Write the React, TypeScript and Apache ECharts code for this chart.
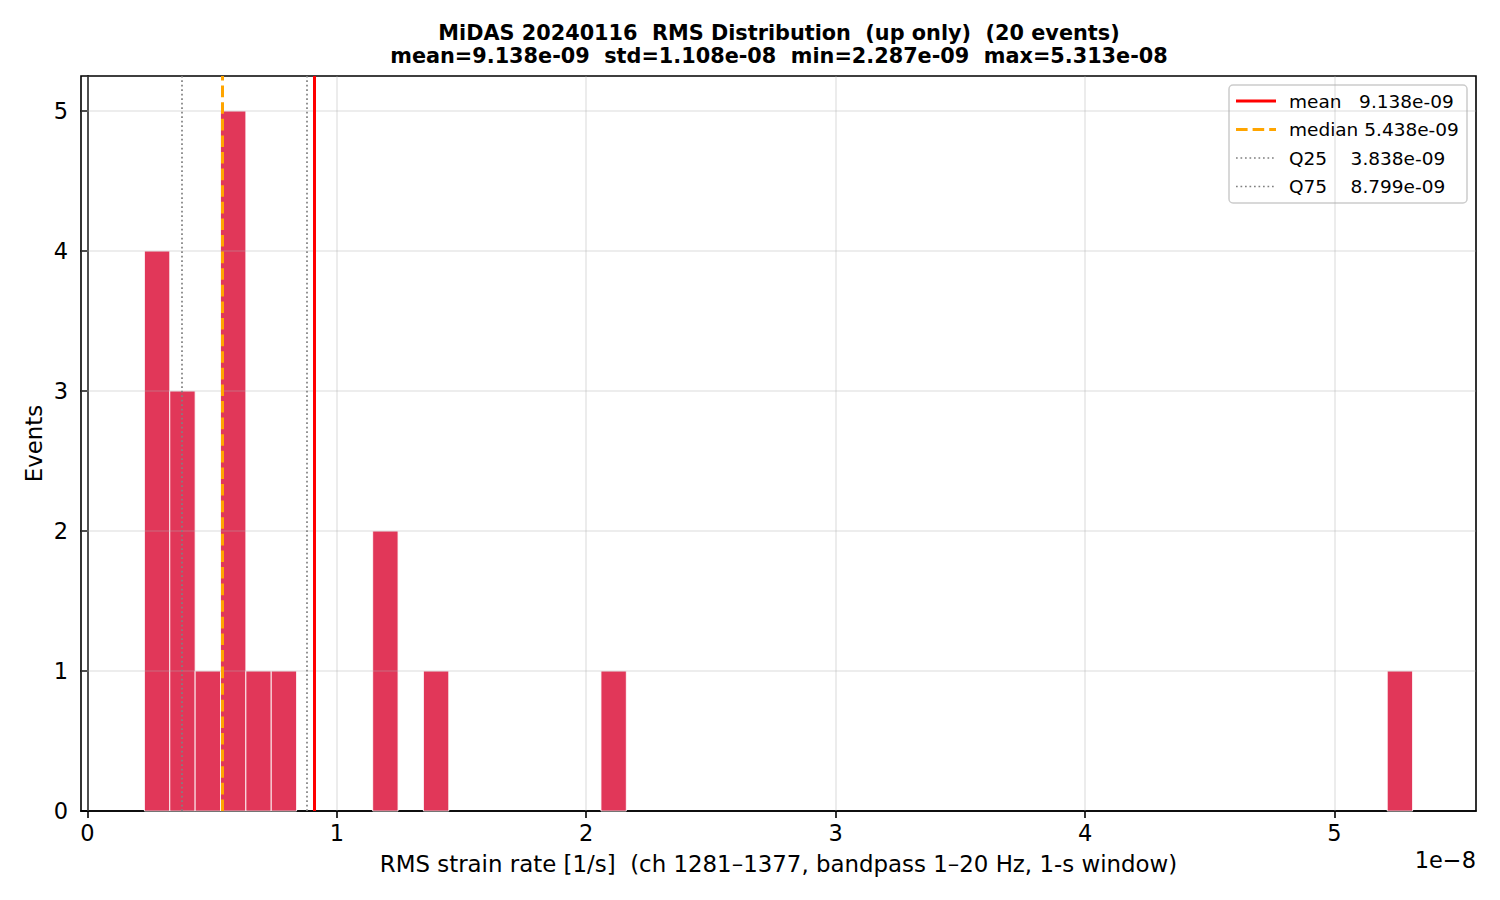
import React, { useEffect, useRef } from "react";
import * as echarts from "echarts";

// histogram counts, 50 bins between min and max (x in units of 1e-8 1/s)
const binCounts = [
  4, 3, 1, 5, 1, 1, 0, 0, 0, 2, 0, 1, 0, 0, 0, 0, 0, 0, 1, 0,
  0, 0, 0, 0, 0, 0, 0, 0, 0, 0, 0, 0, 0, 0, 0, 0, 0, 0, 0, 0,
  0, 0, 0, 0, 0, 0, 0, 0, 0, 1,
];
const binMin = 0.2287;
const binMax = 5.313;

const xTicks = [0, 1, 2, 3, 4, 5];
const yTicks = [0, 1, 2, 3, 4, 5];

const statNames = ["mean", "median", "Q25", "Q75"];
const statValues = [0.9138, 0.5438, 0.3838, 0.8799];
const legendLabels = [
  "mean   9.138e-09",
  "median 5.438e-09",
  "Q25    3.838e-09",
  "Q75    8.799e-09",
];

const titleText =
  "MiDAS 20240116  RMS Distribution  (up only)  (20 events)\nmean=9.138e-09  std=1.108e-08  min=2.287e-09  max=5.313e-08";
const xName =
  "RMS strain rate [1/s]  (ch 1281\u20131377, bandpass 1\u201320 Hz, 1-s window)";

const FONT = "DejaVu Sans";
const AXIS_FS = 22.5;
const NAME_FS = 22.9;

const statStyles: any[] = [
  { color: "#ff0000", width: 3, type: "solid" },
  { color: "#ffa500", width: 3, type: [11.6, 5] },
  { color: "#808080", width: 1.7, type: [1.7, 2.8] },
  { color: "#808080", width: 1.7, type: [1.7, 2.8] },
];

const App = () => {
  const chartRef = useRef<HTMLDivElement>(null);

  useEffect(() => {
    if (!chartRef.current) return;
    document.body.style.margin = "0";

    const myChart = echarts.init(chartRef.current, undefined, {
      renderer: "svg",
    });

    const binWidth = (binMax - binMin) / binCounts.length;
    const barData = binCounts
      .map((c, i) => [binMin + i * binWidth, binMin + (i + 1) * binWidth, c])
      .filter((d) => d[2] > 0);

    const span = binMax - binMin;
    const xMin = binMin - span * 0.05;
    const xMax = binMax + span * 0.05;

    // legend drawn by hand to match the matplotlib box
    const legendX = 1229;
    const legendY = 85;
    const rowGap = 28.5;
    const legendChildren: any[] = [
      {
        type: "rect",
        shape: { x: 0, y: 0, width: 238, height: 118, r: 4 },
        style: { fill: "rgba(255,255,255,0.8)", stroke: "#cccccc", lineWidth: 1.5 },
      },
    ];
    legendLabels.forEach((label, i) => {
      const cy = 16 + i * rowGap;
      const st = statStyles[i];
      legendChildren.push({
        type: "line",
        shape: { x1: 7, y1: cy, x2: 47, y2: cy },
        style: {
          stroke: st.color,
          lineWidth: st.width,
          lineDash: Array.isArray(st.type) ? st.type : null,
        },
      });
      legendChildren.push({
        type: "text",
        x: 60,
        y: cy,
        style: {
          text: label,
          fontSize: 18.5,
          fontFamily: FONT,
          fill: "#000",
          verticalAlign: "middle",
        },
      });
    });

    const option: any = {
      animation: false,
      title: {
        text: titleText,
        left: 779,
        top: 21,
        padding: 0,
        textAlign: "center",
        textStyle: {
          fontFamily: FONT,
          fontSize: 20.8,
          fontWeight: "bold",
          color: "#000",
          lineHeight: 23,
        },
      },
      grid: {
        left: 81,
        right: 24,
        top: 76,
        bottom: 89,
        show: true,
        borderColor: "#000",
        borderWidth: 1.6,
      },
      xAxis: {
        type: "value",
        min: xMin,
        max: xMax,
        name: xName,
        nameLocation: "middle",
        nameGap: 41,
        nameMoveOverlap: false,
        nameTextStyle: { fontFamily: FONT, fontSize: NAME_FS, color: "#000" },
        axisLine: { show: true, lineStyle: { color: "#000", width: 1.6 } },
        axisTick: {
          show: true,
          length: 7,
          customValues: xTicks,
          lineStyle: { color: "#000", width: 1.6 },
        },
        axisLabel: {
          customValues: xTicks,
          formatter: (v: number) => String(v),
          fontFamily: FONT,
          fontSize: AXIS_FS,
          color: "#000",
          margin: 10,
        },
        splitLine: { show: false },
      },
      yAxis: {
        type: "value",
        min: 0,
        max: 5.25,
        name: "Events",
        nameLocation: "middle",
        nameRotate: 90,
        nameGap: 36,
        nameMoveOverlap: false,
        nameTextStyle: { fontFamily: FONT, fontSize: NAME_FS, color: "#000" },
        axisLine: { show: true, lineStyle: { color: "#000", width: 1.6 } },
        axisTick: {
          show: true,
          length: 7,
          customValues: yTicks,
          lineStyle: { color: "#000", width: 1.6 },
        },
        axisLabel: {
          customValues: yTicks,
          formatter: (v: number) => String(v),
          fontFamily: FONT,
          fontSize: AXIS_FS,
          color: "#000",
          margin: 13,
        },
        splitLine: { show: false },
      },
      graphic: [
        {
          type: "text",
          right: 24,
          top: 848,
          style: {
            text: "1e\u22128",
            fontFamily: FONT,
            fontSize: AXIS_FS,
            fill: "#000",
          },
        },
        {
          type: "group",
          x: legendX,
          y: legendY,
          z: 100,
          children: legendChildren,
        },
      ],
      series: [
        {
          type: "custom",
          name: "counts",
          z: 2,
          encode: { x: [0, 1], y: 2 },
          data: barData,
          renderItem: (params: any, api: any) => {
            const p0 = api.coord([api.value(0), api.value(2)]);
            const p1 = api.coord([api.value(1), 0]);
            return {
              type: "rect",
              shape: {
                x: p0[0],
                y: p0[1],
                width: p1[0] - p0[0],
                height: p1[1] - p0[1],
              },
              style: {
                fill: "rgba(220,20,60,0.85)",
                stroke: "rgba(255,255,255,0.85)",
                lineWidth: 1,
              },
            };
          },
        },
        {
          type: "line",
          name: "grid",
          z: 3,
          data: [],
          markLine: {
            silent: true,
            symbol: "none",
            label: { show: false },
            lineStyle: { color: "rgba(176,176,176,0.3)", width: 1.6, type: "solid" },
            data: [
              ...xTicks.map((v) => ({ xAxis: v })),
              ...yTicks.slice(1).map((v) => ({ yAxis: v })),
            ],
          },
        },
        {
          type: "line",
          name: "stats",
          z: 4,
          data: [],
          markLine: {
            silent: true,
            symbol: "none",
            label: { show: false },
            data: statValues.map((v, i) => ({
              name: statNames[i],
              xAxis: v,
              lineStyle: statStyles[i],
            })),
          },
        },
      ],
    };

    myChart.setOption(option);

    return () => {
      myChart.dispose();
    };
  }, []);

  return <div ref={chartRef} style={{ width: "1500px", height: "900px" }}></div>;
};

export default App;
